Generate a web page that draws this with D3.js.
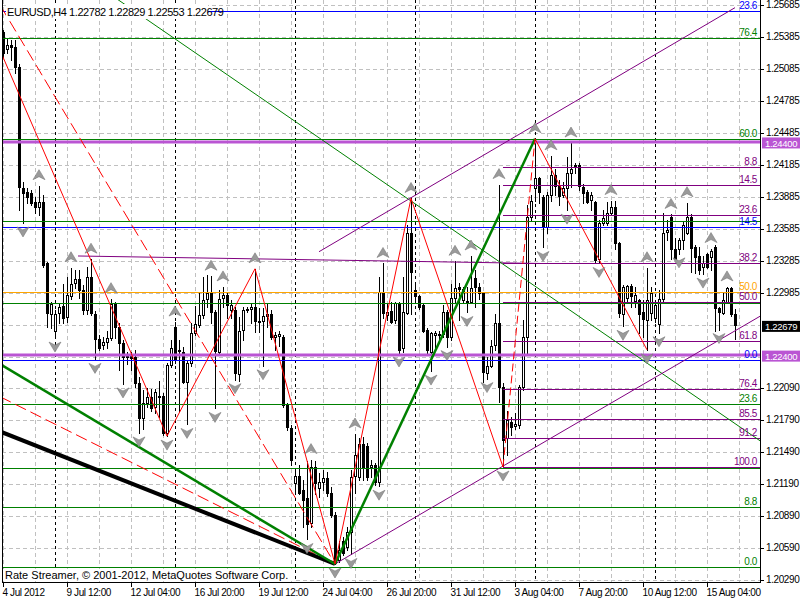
<!DOCTYPE html>
<html><head><meta charset="utf-8">
<script src="https://cdn.jsdelivr.net/npm/d3@7/dist/d3.min.js"></script>
<style>
body{margin:0;background:#fff;}
svg{display:block;font-family:"Liberation Sans",Arial,sans-serif;}
</style></head><body>
<svg id="c" width="800" height="600"></svg>
<script>
// ---------------- DATA ----------------
const symbol = "EURUSD,H4";
const lastBar = [1.22782, 1.22829, 1.22553, 1.22679];
const open = [1.2543,1.2527,1.2531,1.2529,1.2510,1.2397,1.2393,1.2392,1.2384,1.2379,1.2384,1.2326,1.2279,1.2263,1.2279,1.2286,1.2275,1.2296,1.2307,1.2311,1.2301,1.2282,1.2313,1.2279,1.2255,1.2249,1.2252,1.2256,1.2288,1.2266,1.2251,1.2240,1.2239,1.2238,1.2214,1.2181,1.2195,1.2201,1.2191,1.2202,1.2202,1.2167,1.2231,1.2266,1.2245,1.2243,1.2215,1.2233,1.2261,1.2269,1.2278,1.2292,1.2298,1.2280,1.2243,1.2293,1.2296,1.2282,1.2282,1.2223,1.2263,1.2282,1.2283,1.2285,1.2272,1.2272,1.2277,1.2279,1.2257,1.2258,1.2257,1.2193,1.2172,1.2120,1.2127,1.2113,1.2106,1.2082,1.2135,1.2115,1.2121,1.2125,1.2111,1.2090,1.2048,1.2066,1.2060,1.2074,1.2126,1.2126,1.2157,1.2155,1.2135,1.2137,1.2121,1.2299,1.2277,1.2281,1.2273,1.2289,1.2246,1.2280,1.2355,1.2301,1.2295,1.2287,1.2264,1.2243,1.2259,1.2259,1.2259,1.2280,1.2257,1.2294,1.2304,1.2292,1.2291,1.2290,1.2312,1.2304,1.2298,1.2223,1.2230,1.2249,1.2270,1.2210,1.2162,1.2177,1.2173,1.2174,1.2210,1.2257,1.2370,1.2397,1.2406,1.2388,1.2360,1.2390,1.2409,1.2399,1.2390,1.2397,1.2411,1.2418,1.2418,1.2398,1.2393,1.2385,1.2384,1.2330,1.2364,1.2364,1.2373,1.2379,1.2345,1.2279,1.2294,1.2305,1.2290,1.2292,1.2280,1.2273,1.2279,1.2275,1.2270,1.2293,1.2355,1.2370,1.2340,1.2340,1.2348,1.2355,1.2370,1.2341,1.2333,1.2322,1.2335,1.2332,1.2341,1.2284,1.2280,1.2290,1.2303,1.22782];
const high = [1.2545,1.2537,1.2536,1.2536,1.2513,1.2402,1.2397,1.2395,1.2388,1.2399,1.2390,1.2327,1.2290,1.2282,1.2289,1.2307,1.2313,1.2322,1.2320,1.2320,1.2306,1.2323,1.2330,1.2281,1.2259,1.2257,1.2263,1.2293,1.2290,1.2270,1.2254,1.2243,1.2243,1.2245,1.2219,1.2207,1.2209,1.2208,1.2208,1.2216,1.2204,1.2233,1.2254,1.2271,1.2254,1.2248,1.2235,1.2270,1.2286,1.2298,1.2313,1.2315,1.2314,1.2282,1.2301,1.2304,1.2299,1.2292,1.2285,1.2276,1.2285,1.2285,1.2288,1.2321,1.2284,1.2284,1.2289,1.2282,1.2262,1.2263,1.2259,1.2195,1.2174,1.2134,1.2137,1.2123,1.2141,1.2142,1.2141,1.2129,1.2132,1.2130,1.2116,1.2093,1.2066,1.2069,1.2079,1.2132,1.2166,1.2162,1.2163,1.2158,1.2142,1.2139,1.2313,1.2326,1.2289,1.2290,1.2290,1.2290,1.2313,1.2362,1.2387,1.2306,1.2296,1.2289,1.2265,1.2262,1.2263,1.2263,1.2287,1.2282,1.2307,1.2328,1.2308,1.2304,1.2304,1.2333,1.2320,1.2308,1.2299,1.2238,1.2254,1.2279,1.2400,1.2214,1.2188,1.2182,1.2186,1.2212,1.2273,1.2381,1.2390,1.2443,1.2407,1.2390,1.2393,1.2427,1.2415,1.2404,1.2402,1.2426,1.2439,1.2420,1.2420,1.2401,1.2395,1.2393,1.2385,1.2367,1.2376,1.2384,1.2385,1.2385,1.2346,1.2306,1.2306,1.2307,1.2304,1.2293,1.2292,1.2322,1.2304,1.2292,1.2301,1.2373,1.2367,1.2372,1.2350,1.2350,1.2365,1.2383,1.2372,1.2343,1.2341,1.2333,1.2336,1.2340,1.2343,1.2285,1.2298,1.2304,1.2304,1.22829];
const low = [1.2520,1.2523,1.2517,1.2505,1.2376,1.2364,1.2383,1.2381,1.2373,1.2371,1.2323,1.2266,1.2265,1.2256,1.2270,1.2270,1.2271,1.2293,1.2303,1.2294,1.2279,1.2279,1.2278,1.2236,1.2245,1.2246,1.2247,1.2254,1.2256,1.2226,1.2213,1.2232,1.2226,1.2210,1.2167,1.2171,1.2191,1.2188,1.2186,1.2182,1.2165,1.2164,1.2229,1.2233,1.2188,1.2214,1.2175,1.2230,1.2259,1.2266,1.2275,1.2285,1.2270,1.2190,1.2240,1.2285,1.2275,1.2275,1.2217,1.2216,1.2254,1.2280,1.2270,1.2262,1.2262,1.2230,1.2266,1.2255,1.2245,1.2249,1.2191,1.2170,1.2137,1.2111,1.2110,1.2079,1.2067,1.2079,1.2110,1.2107,1.2113,1.2108,1.2088,1.2044,1.2046,1.2052,1.2057,1.2053,1.2111,1.2123,1.2123,1.2123,1.2126,1.2118,1.2117,1.2275,1.2273,1.2270,1.2270,1.2242,1.2243,1.2279,1.2279,1.2292,1.2283,1.2262,1.2240,1.2225,1.2245,1.2252,1.2257,1.2248,1.2254,1.2289,1.2273,1.2289,1.2280,1.2289,1.2285,1.2293,1.2215,1.2218,1.2229,1.2245,1.2196,1.2135,1.2146,1.2165,1.2171,1.2172,1.2207,1.2242,1.2367,1.2385,1.2383,1.2341,1.2355,1.2385,1.2390,1.2381,1.2388,1.2376,1.2398,1.2411,1.2395,1.2383,1.2383,1.2376,1.2326,1.2326,1.2362,1.2362,1.2371,1.2340,1.2276,1.2267,1.2289,1.2285,1.2285,1.2261,1.2257,1.2245,1.2273,1.2271,1.2261,1.2290,1.2348,1.2330,1.2329,1.2335,1.2340,1.2354,1.2318,1.2317,1.2316,1.2316,1.2322,1.2320,1.2263,1.2264,1.2279,1.2289,1.2277,1.22553];
const close = [1.2523,1.2531,1.2529,1.2510,1.2397,1.2392,1.2388,1.2383,1.2379,1.2384,1.2325,1.2279,1.2288,1.2279,1.2285,1.2275,1.2296,1.2307,1.2311,1.2301,1.2282,1.2313,1.2279,1.2256,1.2247,1.2252,1.2256,1.2288,1.2266,1.2251,1.2238,1.2238,1.2237,1.2214,1.2181,1.2195,1.2201,1.2191,1.2205,1.2201,1.2167,1.2231,1.2247,1.2235,1.2244,1.2215,1.2233,1.2261,1.2269,1.2278,1.2292,1.2298,1.2280,1.2243,1.2293,1.2296,1.2287,1.2287,1.2223,1.2263,1.2282,1.2283,1.2285,1.2272,1.2271,1.2277,1.2279,1.2257,1.2259,1.2260,1.2193,1.2172,1.2142,1.2127,1.2111,1.2104,1.2082,1.2135,1.2120,1.2121,1.2125,1.2111,1.2090,1.2045,1.2057,1.2055,1.2074,1.2126,1.2146,1.2157,1.2135,1.2126,1.2137,1.2121,1.2299,1.2279,1.2280,1.2271,1.2289,1.2245,1.2280,1.2355,1.2318,1.2295,1.2285,1.2263,1.2245,1.2261,1.2261,1.2260,1.2280,1.2257,1.2294,1.2303,1.2302,1.2302,1.2289,1.2303,1.2304,1.2298,1.2224,1.2230,1.2249,1.2270,1.2210,1.2160,1.2179,1.2172,1.2175,1.2210,1.2257,1.2370,1.2385,1.2406,1.2393,1.2360,1.2390,1.2409,1.2399,1.2390,1.2397,1.2411,1.2415,1.2416,1.2398,1.2392,1.2384,1.2390,1.2330,1.2364,1.2369,1.2373,1.2379,1.2345,1.2279,1.2304,1.2305,1.2296,1.2296,1.2279,1.2273,1.2292,1.2298,1.2287,1.2293,1.2355,1.2357,1.2340,1.2331,1.2348,1.2362,1.2370,1.2341,1.2332,1.2320,1.2326,1.2323,1.2338,1.2284,1.2280,1.2292,1.2303,1.2279,1.22679];

// time axis labels (bar index -> text)
const timeTickBars = [0,16,32,48,64,80,96,112,128,144,160,176];
const timeTickLabels = ["4 Jul 2012","9 Jul 12:00","12 Jul 04:00","16 Jul 20:00","19 Jul 12:00","24 Jul 04:00","26 Jul 20:00","31 Jul 12:00","3 Aug 04:00","7 Aug 20:00","10 Aug 12:00","15 Aug 04:00"];
const weekStartBars = [13,43,73,103,133,163];
// price axis
const priceTicks = [1.25685,1.25385,1.25085,1.24785,1.24485,1.24185,1.23885,1.23585,1.23285,1.22985,1.22090,1.21790,1.21490,1.21190,1.20890,1.20590,1.20290];
const hiddenGridPrices = [1.22685,1.22385];

// fractals
const fractalUpBars = [9,17,22,27,43,52,55,63,77,88,95,102,113,117,124,133,137,142,152,161,167,171,177,181];
const fractalDownBars = [5,13,23,30,34,41,46,53,58,65,76,83,87,94,99,107,111,116,121,125,135,141,149,155,161,164,169,175,179];

// zigzag
const zigzagBars = [-5,41,63,83,102,125,133,161];
const zigzagPrices = [1.2563,1.2164,1.2321,1.2044,1.2387,1.2135,1.2443,1.2245];

// fibonacci (purple) retracement
const fibHighPrice = 1.2444, fibLowPrice = 1.2135, fibStartBar = 125;
const fibLevels = [8.8,14.5,23.6,38.2,50.0,61.8,76.4,85.5,91.2,100.0];

// other horizontal levels
const greenLevelPrices = [1.25375,1.24428,1.23659,1.22889,1.21941,1.21345,1.20975,1.20412];
const greenLevelLabels = ["76.4","60.0","","","23.6","","8.8","0.0"];
const blueLevelPrices = [1.25629,1.23602,1.22354];
const blueLevelLabels = ["23.6","14.5","0.0"];
const orangeLevelPrices = [1.22992];
const orangeLevelLabels = ["50.0"];
const srLevels = [1.24400,1.22400];

// trend lines: [bar1, price1, bar2, price2]
const blackFanLine = [-0.5,1.2168,83,1.2044];
const greenFanLine = [-0.5,1.2231,83,1.2044];
const greenUpLine = [83,1.2044,133,1.2443];
const greenThinLine = [27,1.2578,189.5,1.2159];
const purpleUpper = [79,1.2337,183,1.2566];
const purpleLower = [83,1.2044,189.5,1.2277];
const purpleMid = [18.75,1.2333,134.25,1.2326];
const redDashA = [-0.5,1.2567,83,1.2044];
const redDashB = [-0.75,1.2201,83,1.2044];

const copyright = "Rate Streamer, \u00A9 2001-2012, MetaQuotes Software Corp.";

// ---------------- DRAW ----------------
const svg = d3.select('#c');
const x = d3.scaleLinear().domain([0,183]).range([3,735]);
const y = d3.scaleLinear().domain([1.20290,1.25685]).range([580,5]);
const L=2, R=760, B=582;

function txt(parent, xx, yy, s, opts){
  opts = opts || {};
  const t = parent.append('text').attr('x',xx).attr('y',yy)
    .attr('font-size',opts.size||10).attr('letter-spacing',opts.ls==null?-0.4:opts.ls)
    .attr('fill',opts.fill||'#000').text(s);
  if (opts.anchor) t.attr('text-anchor',opts.anchor);
  return t;
}

svg.append('rect').attr('width',800).attr('height',600).attr('fill','#fff');
svg.append('defs').append('clipPath').attr('id','pc').append('rect')
  .attr('x',L).attr('y',0).attr('width',R-L).attr('height',B);
const g = svg.append('g').attr('clip-path','url(#pc)');

// grid
const grid = g.append('g').attr('stroke','#c0c0c0').attr('stroke-dasharray','4,3').attr('shape-rendering','crispEdges');
grid.selectAll('line.v').data(d3.range(0,189,8)).join('line')
  .attr('x1',b=>Math.round(x(b))+0.5).attr('x2',b=>Math.round(x(b))+0.5).attr('y1',0).attr('y2',B);
grid.selectAll('line.h').data(priceTicks.concat(hiddenGridPrices)).join('line')
  .attr('x1',L).attr('x2',R).attr('y1',p=>Math.round(y(p))+0.5).attr('y2',p=>Math.round(y(p))+0.5);

// week separators
g.append('g').attr('stroke','#000').attr('stroke-dasharray','3,3').attr('shape-rendering','crispEdges')
  .selectAll('line').data(weekStartBars).join('line')
  .attr('x1',b=>Math.round(x(b))+0.5).attr('x2',b=>Math.round(x(b))+0.5).attr('y1',0).attr('y2',B);

// candles
const bars = d3.range(open.length);
const cg = g.append('g').attr('shape-rendering','crispEdges');
cg.selectAll('line').data(bars).join('line')
  .attr('x1',i=>Math.round(x(i))+0.5).attr('x2',i=>Math.round(x(i))+0.5)
  .attr('y1',i=>Math.round(y(high[i]))).attr('y2',i=>Math.round(y(low[i]))+1)
  .attr('stroke','#000');
cg.selectAll('rect').data(bars).join('rect')
  .each(function(i){
    const cx = Math.round(x(i));
    const t = Math.round(Math.min(y(open[i]),y(close[i])));
    const h = Math.max(1,Math.round(Math.abs(y(open[i])-y(close[i]))));
    const s = d3.select(this);
    if (close[i] >= open[i]) {
      s.attr('x',cx-0.5).attr('y',t+0.5).attr('width',2).attr('height',h).attr('fill','#fff').attr('stroke','#000');
    } else {
      s.attr('x',cx-1).attr('y',t).attr('width',3).attr('height',h+1).attr('fill','#000');
    }
  });

// helper for lines
function seg(parent, d, color, width, dash){
  const l = parent.append('line')
    .attr('x1',x(d[0])).attr('y1',y(d[1])).attr('x2',x(d[2])).attr('y2',y(d[3]))
    .attr('stroke',color).attr('stroke-width',width);
  if (dash) l.attr('stroke-dasharray',dash);
  return l;
}
const lg = g.append('g');

// horizontal levels
function hlevel(p, color, width, x0){
  lg.append('line').attr('x1',x0==null?L:x0).attr('x2',R)
    .attr('y1',Math.round(y(p))+0.5).attr('y2',Math.round(y(p))+0.5)
    .attr('stroke',color).attr('stroke-width',width).attr('shape-rendering','crispEdges');
}
greenLevelPrices.forEach(p=>hlevel(p,'#008000',1));
blueLevelPrices.forEach(p=>hlevel(p,'#0000ff',1));
orangeLevelPrices.forEach(p=>hlevel(p,'#ffa500',1));
const fibPrices = fibLevels.map(l=>fibHighPrice-(fibHighPrice-fibLowPrice)*l/100);
fibPrices.forEach(p=>hlevel(p,'#800080',1,x(fibStartBar)));
srLevels.forEach(p=>{
  lg.append('line').attr('x1',L).attr('x2',R).attr('y1',y(p)).attr('y2',y(p))
    .attr('stroke','#ba55d3').attr('stroke-width',3);
});

// trend lines
seg(lg, purpleMid, '#800080', 1);
seg(lg, greenThinLine, '#008000', 1);
seg(lg, purpleUpper, '#800080', 1);
seg(lg, purpleLower, '#800080', 1);
seg(lg, redDashA, '#ff0000', 1, '12,5');
seg(lg, redDashB, '#ff0000', 1, '12,5');
seg(lg, blackFanLine, '#000000', 4);
seg(lg, greenFanLine, '#008000', 2.5);
seg(lg, greenUpLine, '#008000', 2.5);

// zigzag
const zz = zigzagBars.map((b,i)=>[x(b),y(zigzagPrices[i])]);
for (let k=0;k<zz.length-1;k++){
  const l = lg.append('line').attr('x1',zz[k][0]).attr('y1',zz[k][1]).attr('x2',zz[k+1][0]).attr('y2',zz[k+1][1])
    .attr('stroke','#ff0000').attr('stroke-width',1);
  if (zigzagBars[k]===125) l.attr('stroke-dasharray','8,4');
}

// fractal arrows
const ag = g.append('g').attr('fill','#9a9a9a').attr('stroke','#7a7a7a').attr('stroke-width',0.6);
ag.selectAll('path.up').data(fractalUpBars).join('path')
  .attr('transform',b=>`translate(${x(b)},${y(high[b])-11})`)
  .attr('d','M0,-5 L6,5 L0,2 L-6,5 Z');
ag.selectAll('path.dn').data(fractalDownBars).join('path')
  .attr('transform',b=>`translate(${x(b)},${y(low[b])+9})`)
  .attr('d','M0,5 L6,-5 L0,-2 L-6,-5 Z');

// level labels
const tg = svg.append('g');
function lvlLabel(p, s, color){
  if (!s) return;
  txt(tg, 757, Math.round(y(p))-2, s, {fill:color, anchor:'end'});
}
greenLevelPrices.forEach((p,i)=>lvlLabel(p,greenLevelLabels[i],'#008000'));
blueLevelPrices.forEach((p,i)=>lvlLabel(p,blueLevelLabels[i],'#0000ff'));
orangeLevelPrices.forEach((p,i)=>lvlLabel(p,orangeLevelLabels[i],'#ffa500'));
fibPrices.forEach((p,i)=>lvlLabel(p,fibLevels[i].toFixed(1),'#800080'));

// header
svg.append('rect').attr('x',6).attr('y',4).attr('width',202).attr('height',15).attr('fill','#fff');
txt(svg, 7, 16, symbol+'  '+lastBar.map(v=>v.toFixed(5)).join(' '), {size:11, ls:-0.45});

// copyright
svg.append('rect').attr('x',3).attr('y',569).attr('width',291).attr('height',12).attr('fill','#fff');
txt(svg, 5, 579, copyright, {size:11, ls:0});

// frame
const fr = svg.append('g').attr('stroke','#000').attr('shape-rendering','crispEdges');
fr.append('line').attr('x1',L+0.5).attr('x2',L+0.5).attr('y1',0).attr('y2',B);
fr.append('line').attr('x1',R+0.5).attr('x2',R+0.5).attr('y1',0).attr('y2',B+1);
fr.append('line').attr('x1',L).attr('x2',R+1).attr('y1',B+0.5).attr('y2',B+0.5);

// price axis
const ya = svg.append('g');
priceTicks.forEach(p=>{
  const yy = Math.round(y(p))+0.5;
  ya.append('line').attr('x1',R).attr('x2',R+4).attr('y1',yy).attr('y2',yy).attr('stroke','#000').attr('shape-rendering','crispEdges');
  txt(ya, 766, yy+2.5, p.toFixed(5));
});
function boxLabel(p, bg){
  const yy = y(p);
  ya.append('rect').attr('x',762).attr('y',yy-4.5).attr('width',38).attr('height',11).attr('fill',bg);
  txt(ya, 765, yy+5, p.toFixed(5), {fill:'#fff', size:9.5, ls:-0.3});
}
srLevels.forEach(p=>boxLabel(p,'#ba55d3'));
boxLabel(lastBar[3],'#000');

// time axis
const xa = svg.append('g');
timeTickBars.forEach((b,i)=>{
  const xx = Math.round(x(b))+0.5;
  xa.append('line').attr('x1',xx).attr('x2',xx).attr('y1',B).attr('y2',B+5).attr('stroke','#000').attr('shape-rendering','crispEdges');
  txt(xa, xx-1, 596, timeTickLabels[i]);
});
</script>
</body></html>
